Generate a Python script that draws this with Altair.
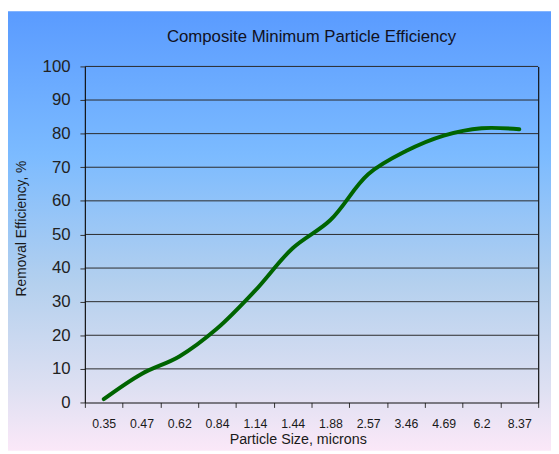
import altair as alt
import pandas as pd

sizes = ["0.35", "0.47", "0.62", "0.84", "1.14", "1.44", "1.88", "2.57", "3.46", "4.69", "6.2", "8.37"]
efficiency = [1.0, 8.5, 13.7, 22.0, 33.2, 45.9, 54.3, 67.9, 74.8, 79.4, 81.6, 81.3]
grid_values = [10, 20, 30, 40, 50, 60, 70, 80, 90, 100]

df = pd.DataFrame({"size": sizes, "eff": efficiency})
grid_df = pd.DataFrame({"g": grid_values})

W, H = 460, 341
PAD = {"left": 78, "top": 56, "right": 13, "bottom": 49}
FONT = "Liberation Sans"

gradient = alt.Gradient(
    gradient="linear",
    x1=0, x2=0, y1=0, y2=1,
    stops=[
        alt.GradientStop(color="#5A9BFF", offset=0),
        alt.GradientStop(color="#7CBBFF", offset=0.33),
        alt.GradientStop(color="#B4D0EE", offset=0.62),
        alt.GradientStop(color="#DEE0F2", offset=0.86),
        alt.GradientStop(color="#FBE8F8", offset=1),
    ],
)

bg = alt.Chart(pd.DataFrame({"a": [0]})).mark_rect(fill=gradient, strokeWidth=0).encode(
    x=alt.value(-PAD["left"]),
    x2=alt.value(W + PAD["right"]),
    y=alt.value(-PAD["top"]),
    y2=alt.value(H + PAD["bottom"]),
)

y_scale = alt.Scale(domain=[0, 100], nice=False)

grid = alt.Chart(grid_df).mark_rule(color="#2a2a2a", strokeWidth=1).encode(
    y=alt.Y("g:Q", scale=y_scale,
            axis=alt.Axis(orient="right", labels=False, ticks=False, title=None,
                          grid=False, domain=True, domainColor="#111111",
                          domainWidth=1.2, zindex=1)),
)

x_enc_axis = alt.Axis(
    title="Particle Size, microns", labelAngle=0, tickBand="extent",
    tickSize=5, tickColor="#333333", domainColor="#111111", domainWidth=1.2,
    labelFont=FONT, labelFontSize=12.5, labelColor="#1a1a1a", labelPadding=10,
    labelOverlap=False,
    titleFont=FONT, titleFontSize=14.5, titleFontWeight="normal", titleColor="#1a1a1a",
    titlePadding=3, titleX=216, grid=False, zindex=1,
)

line = alt.Chart(df).mark_line(
    color="#006400", strokeWidth=4, interpolate="catmull-rom", strokeCap="round"
).encode(
    x=alt.X("size:N", sort=sizes, bandPosition=0.5,
            scale=alt.Scale(type="band", paddingInner=0, paddingOuter=0),
            axis=x_enc_axis),
    y=alt.Y("eff:Q", scale=y_scale,
            axis=alt.Axis(title="Removal Efficiency, %", values=list(range(0, 101, 10)),
                          tickSize=5, tickColor="#333333", domainColor="#111111",
                          domainWidth=1.2, grid=False,
                          labelFont=FONT, labelFontSize=17, labelColor="#222222",
                          labelPadding=10,
                          titleFont=FONT, titleFontSize=14, titleFontWeight="normal",
                          titleColor="#1a1a1a", titlePadding=14, titleY=164, zindex=1)),
)

chart = alt.layer(bg, grid, line).resolve_axis(y="independent").resolve_scale(y="shared").properties(
    width=W, height=H,
    autosize=alt.AutoSizeParams(type="none"),
    padding=PAD,
    background="transparent",
    title=alt.TitleParams(
        "Composite Minimum Particle Efficiency",
        font=FONT, fontSize=17, fontWeight="normal", color="#111122",
        anchor="middle", offset=0, baseline="alphabetic", dy=48,
    ),
).configure_view(stroke=None)

chart.save("out.html", embed_options={"renderer": "svg", "actions": False})
